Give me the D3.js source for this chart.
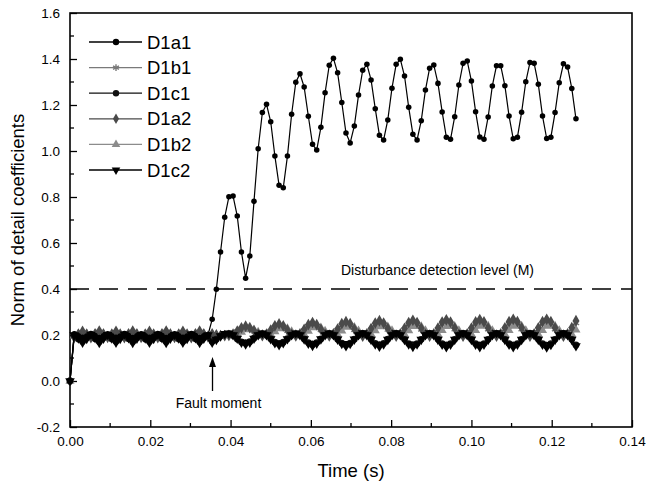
<!DOCTYPE html>
<html lang="en">
<head>
    <meta charset="utf-8">
    <script src="https://d3js.org/d3.v7.min.js"></script>
    <style>
        body { margin: 0; background: #fff; font-family: 'Liberation Sans', Arial, sans-serif; }
        .tick-label { font-size: 13.5px; fill: #000; }
        .axis-title { font-size: 18.5px; fill: #000; }
        .legend-text { font-size: 18.5px; fill: #000; }
        .note { font-size: 14px; fill: #000; }
    </style>
</head>
<body>
<script>
    // sample spacing of the wavelet coefficients (s)
    var dt = 1 / 960;

    var seriesNames = ["D1a1", "D1b1", "D1c1", "D1a2", "D1b2", "D1c2"];
    var xTicks = [0, 0.02, 0.04, 0.06, 0.08, 0.10, 0.12, 0.14];
    var yTicks = [-0.2, 0, 0.2, 0.4, 0.6, 0.8, 1.0, 1.2, 1.4, 1.6];
    var threshold = 0.4;
    var faultTime = 0.0355;

    var D1a1 = [0,
        0.205,0.197,0.190,0.196,0.206,0.198,0.189,0.197,
        0.205,0.197,0.190,0.196,0.206,0.198,0.189,0.197,
        0.205,0.197,0.190,0.196,0.206,0.198,0.189,0.197,
        0.205,0.197,0.190,0.196,0.206,0.198,0.189,0.197,
        0.200,
        0.268,0.399,0.561,0.712,0.801,0.804,0.717,0.561,
        0.447,0.543,0.781,1.010,1.167,1.203,1.127,0.978,
        0.851,0.840,0.978,1.160,1.299,1.336,1.278,1.151,
        1.029,1.004,1.103,1.253,1.373,1.403,1.340,1.211,
        1.078,1.035,1.109,1.243,1.351,1.377,1.309,1.184,
        1.068,1.048,1.135,1.273,1.377,1.399,1.326,1.190,
        1.073,1.048,1.132,1.265,1.360,1.374,1.294,1.170,
        1.060,1.051,1.149,1.287,1.381,1.391,1.304,1.171,
        1.061,1.051,1.148,1.283,1.371,1.371,1.284,1.152,
        1.053,1.060,1.168,1.301,1.385,1.381,1.290,1.152,
        1.054,1.060,1.167,1.297,1.379,1.365,1.272,1.140];

    var D1b1 = [0,
        0.194,0.207,0.212,0.199,0.195,0.208,0.213,0.200,
        0.194,0.207,0.212,0.199,0.195,0.208,0.213,0.200,
        0.194,0.207,0.212,0.199,0.195,0.208,0.213,0.200,
        0.194,0.207,0.212,0.199,0.195,0.208,0.213,0.200,
        0.196,
        0.203,0.199,0.197,0.198,0.199,0.205,0.216,0.227,
        0.232,0.227,0.216,0.204,0.198,0.204,0.218,0.234,
        0.240,0.234,0.218,0.204,0.197,0.204,0.221,0.238,
        0.245,0.238,0.221,0.204,0.197,0.204,0.222,0.241,
        0.248,0.241,0.222,0.204,0.197,0.205,0.223,0.243,
        0.251,0.243,0.223,0.204,0.197,0.205,0.224,0.244,
        0.252,0.244,0.224,0.204,0.197,0.205,0.225,0.246,
        0.254,0.246,0.225,0.204,0.197,0.205,0.225,0.246,
        0.254,0.246,0.225,0.204,0.197,0.205,0.225,0.247,
        0.255,0.247,0.225,0.204,0.197,0.205,0.225,0.247,
        0.255,0.247,0.225,0.204,0.197,0.205,0.226,0.252];

    var D1c1 = [0,
        0.198,0.183,0.172,0.188,0.199,0.184,0.171,0.188,
        0.198,0.183,0.172,0.188,0.199,0.184,0.171,0.188,
        0.198,0.183,0.172,0.188,0.199,0.184,0.171,0.188,
        0.198,0.183,0.172,0.188,0.199,0.184,0.171,0.188,
        0.197,
        0.172,0.182,0.196,0.204,0.206,0.198,0.183,0.170,
        0.164,0.171,0.186,0.199,0.206,0.199,0.184,0.169,
        0.161,0.169,0.184,0.199,0.206,0.199,0.183,0.167,
        0.158,0.167,0.183,0.199,0.207,0.199,0.182,0.165,
        0.156,0.165,0.182,0.199,0.207,0.199,0.182,0.164,
        0.155,0.164,0.182,0.199,0.207,0.199,0.181,0.163,
        0.154,0.163,0.181,0.199,0.207,0.199,0.181,0.163,
        0.153,0.163,0.181,0.199,0.207,0.199,0.181,0.163,
        0.153,0.163,0.181,0.199,0.207,0.199,0.181,0.163,
        0.153,0.163,0.181,0.199,0.207,0.199,0.181,0.163,
        0.152,0.162,0.181,0.199,0.207,0.199,0.181,0.157];

    var D1a2 = [0,
        0.190,0.204,0.216,0.203,0.189,0.205,0.217,0.204,
        0.190,0.204,0.216,0.203,0.189,0.205,0.217,0.204,
        0.190,0.204,0.216,0.203,0.189,0.205,0.217,0.204,
        0.190,0.204,0.216,0.203,0.189,0.205,0.217,0.204,
        0.192,
        0.205,0.200,0.197,0.197,0.198,0.204,0.217,0.231,
        0.238,0.232,0.218,0.204,0.197,0.204,0.221,0.240,
        0.248,0.240,0.221,0.204,0.196,0.205,0.224,0.245,
        0.254,0.245,0.224,0.204,0.196,0.205,0.226,0.249,
        0.258,0.249,0.226,0.204,0.195,0.205,0.228,0.252,
        0.262,0.252,0.228,0.204,0.195,0.205,0.229,0.254,
        0.264,0.254,0.229,0.204,0.195,0.205,0.230,0.256,
        0.266,0.256,0.230,0.204,0.195,0.205,0.230,0.257,
        0.267,0.257,0.230,0.204,0.195,0.205,0.231,0.258,
        0.268,0.258,0.231,0.204,0.195,0.205,0.231,0.258,
        0.268,0.258,0.231,0.204,0.195,0.205,0.232,0.262];

    var D1b2 = [0,
        0.196,0.201,0.211,0.206,0.197,0.202,0.212,0.206,
        0.196,0.201,0.211,0.206,0.197,0.202,0.212,0.206,
        0.196,0.201,0.211,0.206,0.197,0.202,0.212,0.206,
        0.196,0.201,0.211,0.206,0.197,0.202,0.212,0.206,
        0.198,
        0.204,0.201,0.199,0.198,0.198,0.199,0.204,0.213,
        0.223,0.228,0.223,0.213,0.203,0.198,0.203,0.215,
        0.228,0.234,0.228,0.215,0.203,0.198,0.203,0.217,
        0.232,0.238,0.232,0.217,0.203,0.198,0.203,0.218,
        0.234,0.241,0.234,0.218,0.203,0.198,0.203,0.219,
        0.236,0.243,0.236,0.219,0.203,0.198,0.203,0.219,
        0.237,0.244,0.237,0.219,0.203,0.198,0.203,0.220,
        0.238,0.245,0.238,0.220,0.203,0.198,0.203,0.220,
        0.239,0.246,0.239,0.220,0.203,0.198,0.203,0.220,
        0.239,0.246,0.239,0.220,0.203,0.198,0.203,0.220,
        0.239,0.246,0.239,0.220,0.203,0.198,0.203,0.222];

    var D1c2 = [0,
        0.200,0.186,0.168,0.184,0.202,0.187,0.167,0.185,
        0.201,0.186,0.168,0.184,0.203,0.187,0.167,0.185,
        0.201,0.186,0.168,0.184,0.202,0.187,0.167,0.185,
        0.201,0.186,0.168,0.184,0.203,0.187,0.167,0.185,
        0.200,
        0.168,0.180,0.195,0.205,0.208,0.200,0.185,0.168,
        0.160,0.168,0.185,0.200,0.208,0.200,0.183,0.165,
        0.157,0.165,0.183,0.200,0.208,0.200,0.182,0.163,
        0.154,0.163,0.182,0.200,0.208,0.200,0.181,0.162,
        0.152,0.162,0.181,0.200,0.209,0.200,0.180,0.160,
        0.150,0.160,0.180,0.200,0.209,0.200,0.180,0.160,
        0.149,0.160,0.180,0.200,0.209,0.200,0.180,0.159,
        0.148,0.159,0.180,0.200,0.209,0.200,0.180,0.159,
        0.148,0.159,0.180,0.200,0.209,0.200,0.180,0.159,
        0.148,0.159,0.180,0.200,0.209,0.200,0.180,0.159,
        0.147,0.158,0.180,0.200,0.209,0.200,0.180,0.152];

    var seriesValues = [D1a1, D1b1, D1c1, D1a2, D1b2, D1c2];
    var colors = ["#000", "#7a7a7a", "#111", "#4a4a4a", "#8c8c8c", "#000"];
    var shapes = [d3.symbolCircle, d3.symbolAsterisk, d3.symbolCircle, d3.symbolDiamond, d3.symbolTriangle, d3.symbolTriangle];
    var rotations = [0, 0, 0, 0, 0, 180];
    var sizes = [24, 36, 36, 40, 36, 40];

    var width = 650, height = 487;
    var margin = {top: 13, right: 18, bottom: 60, left: 70};

    // plain hyphen for negatives, as in the original figure
    var fmt1 = function(d) { return d3.format(".1f")(d).replace("\u2212", "-"); };

    var svg = d3.select("body").append("svg")
        .attr("width", width)
        .attr("height", height);

    var x = d3.scaleLinear().domain([0, 0.14]).range([margin.left, width - margin.right]);
    var y = d3.scaleLinear().domain([-0.2, 1.6]).range([height - margin.bottom, margin.top]);

    // axes: ticks point inward
    var xAxis = svg.append("g")
        .attr("transform", "translate(0," + y(-0.2) + ")")
        .call(d3.axisBottom(x).tickValues(xTicks).tickFormat(d3.format(".2f")).tickSizeInner(-7).tickSizeOuter(0).tickPadding(9));
    xAxis.select(".domain").remove();
    xAxis.selectAll("text").attr("class", "tick-label").style("font-size", "13.5px").style("font-family", "'Liberation Sans', Arial, sans-serif");
    xAxis.selectAll("line").attr("stroke", "#000").attr("stroke-width", 1.3);

    var xMinor = [0.01, 0.03, 0.05, 0.07, 0.09, 0.11, 0.13];
    svg.append("g").selectAll("line").data(xMinor).enter().append("line")
        .attr("x1", function(d) { return x(d); }).attr("x2", function(d) { return x(d); })
        .attr("y1", y(-0.2)).attr("y2", y(-0.2) - 4)
        .attr("stroke", "#000").attr("stroke-width", 1.3);

    var yAxis = svg.append("g")
        .attr("transform", "translate(" + x(0) + ",0)")
        .call(d3.axisLeft(y).tickValues(yTicks).tickFormat(fmt1).tickSizeInner(-7).tickSizeOuter(0).tickPadding(10));
    yAxis.select(".domain").remove();
    yAxis.selectAll("text").attr("class", "tick-label").style("font-size", "13.5px").style("font-family", "'Liberation Sans', Arial, sans-serif");
    yAxis.selectAll("line").attr("stroke", "#000").attr("stroke-width", 1.3);

    var yMinor = [-0.1, 0.1, 0.3, 0.5, 0.7, 0.9, 1.1, 1.3, 1.5];
    svg.append("g").selectAll("line").data(yMinor).enter().append("line")
        .attr("x1", x(0)).attr("x2", x(0) + 4)
        .attr("y1", function(d) { return y(d); }).attr("y2", function(d) { return y(d); })
        .attr("stroke", "#000").attr("stroke-width", 1.3);

    // frame
    svg.append("rect")
        .attr("x", x(0)).attr("y", y(1.6))
        .attr("width", x(0.14) - x(0)).attr("height", y(-0.2) - y(1.6))
        .attr("fill", "none").attr("stroke", "#000").attr("stroke-width", 1.6);

    // detection level
    svg.append("line")
        .attr("x1", x(0)).attr("x2", x(0.14))
        .attr("y1", y(threshold)).attr("y2", y(threshold))
        .attr("stroke", "#000").attr("stroke-width", 1.5)
        .attr("stroke-dasharray", "19,10");

    svg.append("text").attr("class", "note")
        .attr("x", 341).attr("y", 275)
        .text("Disturbance detection level (M)");

    // series, grey band first, black ones over it, main curve last
    var line = d3.line()
        .x(function(d, i) { return x(i * dt); })
        .y(function(d) { return y(d); });

    var drawOrder = [1, 4, 3, 2, 5, 0];
    drawOrder.forEach(function(k) {
        var g = svg.append("g");
        g.append("path")
            .datum(seriesValues[k])
            .attr("d", line)
            .attr("fill", "none")
            .attr("stroke", colors[k])
            .attr("stroke-width", 1.2);
        var sym = d3.symbol().type(shapes[k]).size(sizes[k]);
        g.selectAll("path.pt").data(seriesValues[k]).enter().append("path")
            .attr("class", "pt")
            .attr("d", sym)
            .attr("transform", function(d, i) {
                return "translate(" + x(i * dt) + "," + y(d) + ") rotate(" + rotations[k] + ")";
            })
            .attr("fill", colors[k])
            .attr("stroke", k === 1 ? colors[k] : "none")
            .attr("stroke-width", 1.4);
    });

    // fault arrow
    svg.append("line")
        .attr("x1", x(faultTime)).attr("x2", x(faultTime))
        .attr("y1", 391).attr("y2", 365)
        .attr("stroke", "#000").attr("stroke-width", 1.3);
    svg.append("path")
        .attr("d", "M" + x(faultTime) + ",357 l-3.5,10 l7,0 z")
        .attr("fill", "#000");
    svg.append("text").attr("class", "note")
        .attr("x", x(faultTime) + 6).attr("y", 408)
        .attr("text-anchor", "middle")
        .text("Fault moment");

    // legend
    var legend = svg.append("g");
    seriesNames.forEach(function(name, k) {
        var ly = 42 + k * 25.6;
        legend.append("line")
            .attr("x1", 89).attr("x2", 142).attr("y1", ly).attr("y2", ly)
            .attr("stroke", colors[k]).attr("stroke-width", 1.3);
        legend.append("path")
            .attr("d", d3.symbol().type(shapes[k]).size(32))
            .attr("transform", "translate(116," + ly + ") rotate(" + rotations[k] + ")")
            .attr("fill", colors[k])
            .attr("stroke", k === 1 ? colors[k] : "none")
            .attr("stroke-width", 1.4);
        legend.append("text").attr("class", "legend-text")
            .attr("x", 147).attr("y", ly + 6.5)
            .text(name);
    });

    // axis titles
    svg.append("text").attr("class", "axis-title")
        .attr("x", (x(0) + x(0.14)) / 2).attr("y", 477)
        .attr("text-anchor", "middle")
        .text("Time (s)");
    svg.append("text").attr("class", "axis-title")
        .attr("transform", "translate(24," + (y(0.7)) + ") rotate(-90)")
        .attr("text-anchor", "middle")
        .text("Norm of detail coefficients");
</script>
</body>
</html>
